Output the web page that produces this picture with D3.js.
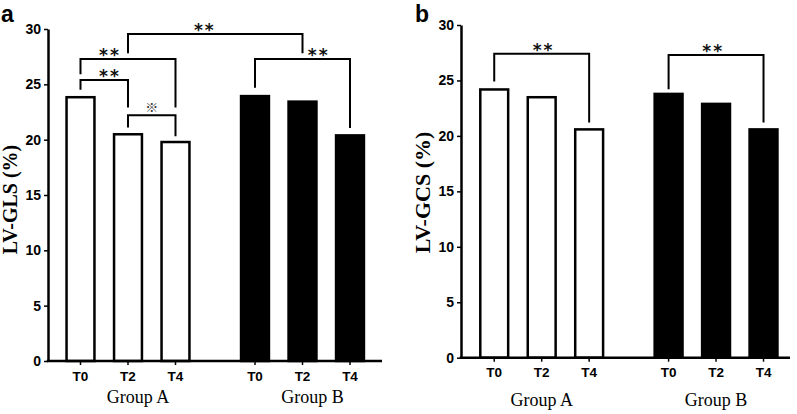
<!DOCTYPE html>
<html>
<head>
<meta charset="utf-8">
<script src="https://cdn.jsdelivr.net/npm/d3@7"></script>
<style>
	body { margin: 0; background: #fff; }
	svg { display: block; }
</style>
</head>
<body>
<svg id="chart"></svg>
<script>
const groups = ["Group A", "Group B"];
const times = ["T0", "T2", "T4"];
const yTicks = [0, 5, 10, 15, 20, 25, 30];

// LV-GLS (%)
const glsGroupA = [23.95, 20.6, 19.9];
const glsGroupB = [24.05, 23.55, 20.5];

// LV-GCS (%)
const gcsGroupA = [24.3, 23.6, 20.7];
const gcsGroupB = [23.9, 23.0, 20.7];

// brackets: from/to bar, height of the bar line and of both leg ends (in %)
const glsBrackets = [
	{from: ["Group A", "T0"], to: ["Group A", "T2"], top: 25.4, left: 24.5, right: 22.9, label: "**", at: 0.62},
	{from: ["Group A", "T0"], to: ["Group A", "T4"], top: 27.3, left: 25.9, right: 22.9, label: "**", at: 0.31},
	{from: ["Group A", "T2"], to: ["Group A", "T4"], top: 22.2, left: 21.1, right: 20.3, label: "※", at: 0.5},
	{from: ["Group A", "T2"], to: ["Group B", "T2"], top: 29.55, left: 27.8, right: 27.8, label: "**", at: 0.44},
	{from: ["Group B", "T0"], to: ["Group B", "T4"], top: 27.3, left: 24.7, right: 21.05, label: "**", at: 0.67}
];
const gcsBrackets = [
	{from: ["Group A", "T0"], to: ["Group A", "T4"], top: 27.4, left: 24.9, right: 21.2, label: "**", at: 0.52},
	{from: ["Group B", "T0"], to: ["Group B", "T4"], top: 27.3, left: 24.2, right: 21.2, label: "**", at: 0.47}
];

const width = 797;
const height = 414;
const sansBold = "'Liberation Sans', Arial, sans-serif";
const serif = "'Liberation Serif', 'Times New Roman', serif";

let svg = d3.select("#chart")
	.attr("width", width)
	.attr("height", height)
	.style("background-color", "#fff");

function drawPanel(p) {
	let y = d3.scaleLinear()
		.domain([0, 30])
		.range([p.yBottom, p.yTop]);

	let x0 = d3.scaleBand()
		.domain(groups)
		.range([p.bandStart, p.bandEnd])
		.paddingInner(0.1834)
		.paddingOuter(0);

	let x1 = d3.scaleBand()
		.domain(times)
		.range([0, x0.bandwidth()])
		.paddingInner(0.36)
		.paddingOuter(0.18);

	let rows = [];
	groups.forEach((g, gi) => {
		times.forEach((t, ti) => {
			rows.push({group: g, time: t, value: (gi === 0 ? p.valuesA : p.valuesB)[ti]});
		});
	});

	const sw = 2.5;
	const cx = (g, t) => x0(g) + x1(t) + x1.bandwidth() / 2;

	let panel = svg.append("g");

	panel.selectAll(".bar")
		.data(rows)
		.enter()
		.append("rect")
			.classed("bar", true)
			.attr("x", (d) => x0(d.group) + x1(d.time) + sw / 2)
			.attr("y", (d) => y(d.value) + sw / 2)
			.attr("width", x1.bandwidth() - sw)
			.attr("height", (d) => y(0) - y(d.value) - sw / 2)
			.attr("fill", (d) => d.group === "Group A" ? "#fff" : "#000")
			.attr("stroke", "#000")
			.attr("stroke-width", sw);

	// y axis
	let yAxis = d3.axisLeft(y)
		.tickValues(yTicks)
		.tickSize(4)
		.tickPadding(3)
		.tickSizeOuter(0);

	let yG = panel.append("g")
		.attr("transform", `translate(${p.yAxisX}, 0)`)
		.call(yAxis);
	yG.select(".domain").attr("stroke-width", 2.5);
	yG.selectAll(".tick line").attr("stroke-width", 1.5);
	yG.selectAll("text")
		.style("font-family", sansBold)
		.style("font-weight", "bold")
		.style("font-size", "14px")
		.attr("fill", "#000");

	// x axis line
	panel.append("line")
		.attr("x1", p.yAxisX - 1.25)
		.attr("x2", p.xAxisEnd)
		.attr("y1", y(0))
		.attr("y2", y(0))
		.attr("stroke", "#000")
		.attr("stroke-width", 2.5);

	groups.forEach((g) => {
		let xG = panel.append("g")
			.attr("transform", `translate(${x0(g)}, ${y(0)})`)
			.call(d3.axisBottom(x1).tickSize(4).tickPadding(6).tickSizeOuter(0));
		xG.select(".domain").remove();
		xG.selectAll(".tick line").attr("stroke-width", 1.5);
		xG.selectAll("text")
			.style("font-family", sansBold)
			.style("font-weight", "bold")
			.style("font-size", "13.5px")
			.attr("fill", "#000");

		panel.append("text")
			.attr("x", x0(g) + x0.bandwidth() / 2 + p.groupDx)
			.attr("y", p.groupY)
			.attr("text-anchor", "middle")
			.style("font-family", serif)
			.style("font-size", "18px")
			.attr("fill", "#000")
			.text(g);
	});

	// significance brackets
	let br = panel.selectAll(".bracket")
		.data(p.brackets)
		.enter()
		.append("g")
			.classed("bracket", true);

	br.append("path")
		.attr("fill", "none")
		.attr("stroke", "#000")
		.attr("stroke-width", 2)
		.attr("d", (d) => {
			let xa = cx(d.from[0], d.from[1]);
			let xb = cx(d.to[0], d.to[1]);
			return `M${xa},${y(d.left)}V${y(d.top)}H${xb}V${y(d.right)}`;
		});

	br.append("text")
		.attr("x", (d) => {
			let xa = cx(d.from[0], d.from[1]);
			let xb = cx(d.to[0], d.to[1]);
			return xa + (xb - xa) * d.at;
		})
		.attr("y", (d) => y(d.top) + (d.label === "**" ? 2 : -3))
		.attr("text-anchor", "middle")
		.style("font-family", (d) => d.label === "**" ? "'DejaVu Sans', sans-serif" : "'Noto Sans CJK SC', sans-serif")
		.style("font-weight", (d) => d.label === "**" ? "bold" : "normal")
		.style("font-size", (d) => d.label === "**" ? "17px" : "13px")
		.style("letter-spacing", (d) => d.label === "**" ? "2px" : "0")
		.attr("fill", (d) => d.label === "**" ? "#111" : "#333")
		.text((d) => d.label);

	// axis title
	panel.append("text")
		.attr("transform", `translate(${p.titleX}, ${p.titleY}) rotate(-90)`)
		.attr("text-anchor", "middle")
		.style("font-family", serif)
		.style("font-weight", "bold")
		.style("font-size", p.titleSize + "px")
		.attr("fill", "#000")
		.text(p.title);

	// panel letter
	panel.append("text")
		.attr("x", p.letterX)
		.attr("y", 22)
		.style("font-family", sansBold)
		.style("font-weight", "bold")
		.style("font-size", "23px")
		.attr("fill", "#000")
		.text(p.letter);
}

drawPanel({
	letter: "a", letterX: 1,
	title: "LV-GLS (%)", titleX: 17, titleY: 199.5, titleSize: 20,
	yAxisX: 48, xAxisEnd: 382, yTop: 29, yBottom: 361,
	bandStart: 56.75, bandEnd: 373.75,
	groupDx: 10, groupY: 403,
	valuesA: glsGroupA, valuesB: glsGroupB,
	brackets: glsBrackets
});

drawPanel({
	letter: "b", letterX: 415,
	title: "LV-GCS (%)", titleX: 430, titleY: 192.5, titleSize: 22,
	yAxisX: 461, xAxisEnd: 790, yTop: 25, yBottom: 357.7,
	bandStart: 470.5, bandEnd: 787.25,
	groupDx: 0, groupY: 406,
	valuesA: gcsGroupA, valuesB: gcsGroupB,
	brackets: gcsBrackets
});
</script>
</body>
</html>
